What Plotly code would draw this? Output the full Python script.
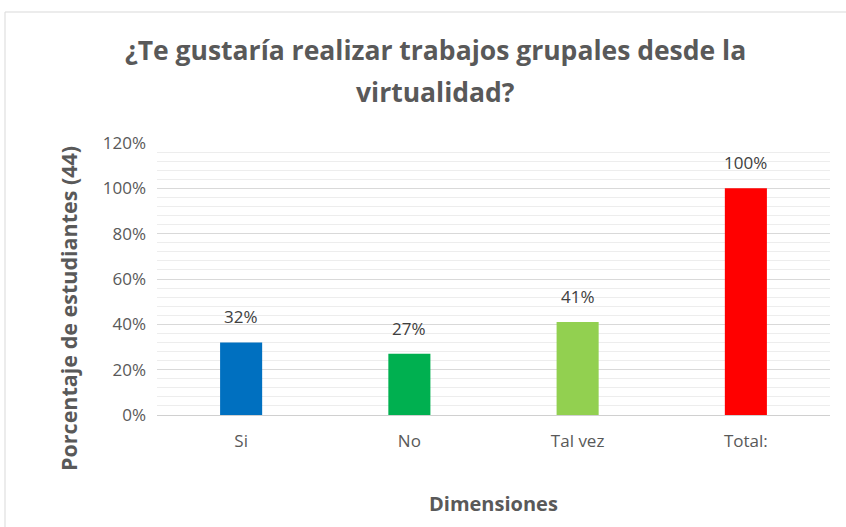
import plotly.graph_objects as go

categories = ["Si", "No", "Tal vez", "Total:"]
values = [0.32, 0.27, 0.41, 1.00]
labels = ["32%", "27%", "41%", "100%"]
colors = ["#0070C0", "#00B050", "#92D050", "#FF0000"]
title_lines = ["¿Te gustaría realizar trabajos grupales desde la", "virtualidad?"]

W, H = 846, 527
L, R, T, B = 157, 16, 143, 112
PW, PH = W - L - R, H - T - B

fig = go.Figure()
fig.add_trace(go.Bar(
    x=categories, y=values,
    marker=dict(color=colors, line=dict(width=0)), width=0.25,
))

for c, v, t in zip(categories, values, labels):
    fig.add_annotation(x=c, y=v, text=t, showarrow=False, yanchor="bottom", yshift=12,
                       font=dict(family="Open Sans", size=17, color="#404040"))

def py(ypix):
    return (H - B - ypix) / PH

def px(xpix):
    return (xpix - L) / PW

for line, yp in zip(title_lines, [50, 92]):
    fig.add_annotation(x=px(435), y=py(yp), xref="paper", yref="paper", text=line,
                       showarrow=False, xanchor="center", yanchor="middle",
                       font=dict(family="Open Sans", size=26.5, color="#595959", weight="bold"))
fig.add_annotation(x=px(493), y=py(503), xref="paper", yref="paper", text="Dimensiones",
                   showarrow=False, xanchor="center", yanchor="middle",
                   font=dict(family="Open Sans", size=20, color="#595959", weight="bold"))
fig.add_annotation(x=px(68), y=py(309), xref="paper", yref="paper", text="Porcentaje de estudiantes (44)",
                   showarrow=False, xanchor="center", yanchor="middle", textangle=-90,
                   font=dict(family="Open Sans", size=21.5, color="#595959", weight="bold"))

fig.update_layout(
    width=W, height=H,
    margin=dict(l=L, r=R, t=T, b=B),
    paper_bgcolor="white", plot_bgcolor="white",
    showlegend=False,
    font=dict(family="Open Sans", color="#595959"),
    xaxis=dict(
        showline=False, ticks="", tickfont=dict(size=17, color="#595959"),
        ticklabelstandoff=14,
    ),
    yaxis=dict(
        range=[0, 1.2], dtick=0.2, tickformat=".0%",
        gridcolor="#D9D9D9", gridwidth=1,
        minor=dict(dtick=0.04, showgrid=True, gridcolor="#EDEDED", gridwidth=1),
        zeroline=True, zerolinecolor="#D0D0D0", zerolinewidth=1,
        tickfont=dict(size=17, color="#595959"), ticklabelstandoff=10,
    ),
)

fig.add_shape(type="rect", xref="paper", yref="paper",
              x0=px(5), x1=px(850), y0=py(532), y1=py(12),
              line=dict(color="#D9D9D9", width=1), layer="below")

fig.write_html("out.html", config={"displayModeBar": False},
               post_script="document.body.style.margin='0';")
